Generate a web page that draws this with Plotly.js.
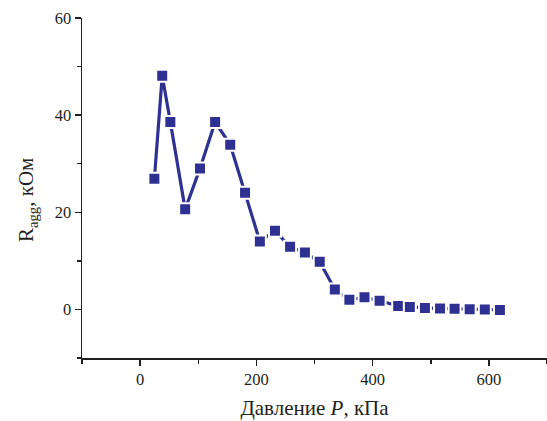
<!DOCTYPE html>
<html>
<head>
<meta charset="utf-8">
<script src="https://cdn.plot.ly/plotly-3.0.1.min.js"></script>
<style>html,body{margin:0;padding:0;background:#fff;}#chart{width:547px;height:421px;}</style>
</head>
<body>
<div id="chart"></div>
<script>
const pressure = [24.5, 38, 52, 77.5, 103, 129, 155, 180.5, 206, 232, 258, 283.5, 309, 335, 360, 386, 412, 444, 464, 490, 516, 541, 567, 593, 619];
const resistance = [26.9, 48.1, 38.6, 20.6, 29.0, 38.6, 33.9, 24.0, 14.0, 16.2, 12.9, 11.7, 9.8, 4.1, 2.0, 2.5, 1.8, 0.7, 0.5, 0.3, 0.2, 0.15, 0.05, 0.0, -0.1];
const xTitle = 'Давление <i>P</i>, кПа';
const yTitle = 'R<sub>agg</sub>, кОм';

const color = '#2E3192';
const trace = {
  x: pressure, y: resistance, type: 'scatter', mode: 'lines+markers',
  line: {color: color, width: 3.2},
  marker: {symbol: 'square', size: 12, color: color, line: {color: '#ffffff', width: 2}},
  cliponaxis: false, showlegend: false
};
const fam = 'Liberation Serif, Times New Roman, serif';
const ink = '#231f20';
const layout = {
  width: 547, height: 421,
  margin: {l: 82, r: 0, t: 18, b: 63},
  paper_bgcolor: '#fff', plot_bgcolor: '#fff',
  font: {family: fam, size: 16, color: ink},
  xaxis: {
    range: [-100, 700], showgrid: false, zeroline: false,
    showline: true, linecolor: ink, linewidth: 1.5,
    ticks: 'outside', ticklen: 6, tickwidth: 1.5, tickcolor: ink,
    tick0: 0, dtick: 200,
    minor: {dtick: 100, tick0: 0, ticks: 'outside', ticklen: 4, tickwidth: 1.5, tickcolor: ink},
    tickfont: {family: fam, size: 16.5, color: ink},
    title: {text: xTitle, font: {family: fam, size: 21, color: ink}, standoff: 12}
  },
  yaxis: {
    range: [-10, 60], showgrid: false, zeroline: false,
    showline: true, linecolor: ink, linewidth: 1.5,
    ticks: 'outside', ticklen: 6, tickwidth: 1.5, tickcolor: ink,
    tick0: 0, dtick: 20,
    minor: {dtick: 10, tick0: 0, ticks: 'outside', ticklen: 4, tickwidth: 1.5, tickcolor: ink},
    tickfont: {family: fam, size: 16.5, color: ink}
  },
  annotations: [{
    text: yTitle, xref: 'paper', yref: 'paper', x: -0.118, y: 0.465,
    xanchor: 'center', yanchor: 'middle', textangle: -90, showarrow: false,
    font: {family: fam, size: 21, color: ink}
  }]
};
Plotly.newPlot('chart', [trace], layout, {displayModeBar: false, staticPlot: true});
</script>
</body>
</html>
